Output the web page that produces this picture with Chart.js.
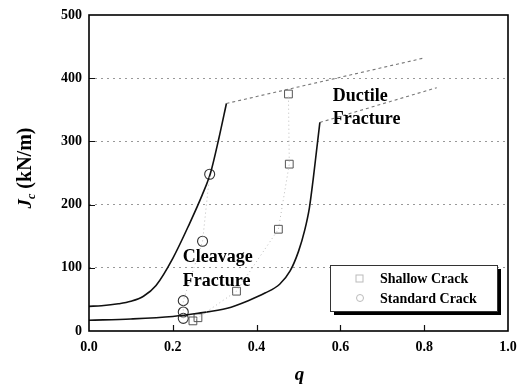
<!DOCTYPE html>
<html lang="en">
<head>
  <meta charset="UTF-8" />
  <title>Jc vs q</title>
  <style>
    body { margin: 0; background: #fff; }
    #wrap { width: 521px; height: 390px; }
  </style>
</head>
<body>
  <div id="wrap"><canvas id="jcChart" width="521" height="390"></canvas></div>

  <script src="https://cdn.jsdelivr.net/npm/chart.js@4.4.1/dist/chart.umd.min.js"></script>
  <script>
    // upper bound of cleavage scatter band (solid) and its ductile continuation (dotted)
    const upperQ = [0, 0.03, 0.07, 0.1, 0.13, 0.16, 0.2, 0.24, 0.27, 0.29, 0.31, 0.328];
    const upperJ = [39, 40, 43, 47, 55, 72, 115, 170, 215, 250, 305, 360];
    const upperDuctQ = [0.328, 0.80];
    const upperDuctJ = [360, 432];

    // lower bound
    const lowerQ = [0, 0.1, 0.2, 0.26, 0.33, 0.38, 0.42, 0.455, 0.48, 0.5, 0.515, 0.526, 0.535, 0.543, 0.551];
    const lowerJ = [17, 19, 23, 28, 36, 48, 60, 74, 95, 126, 160, 195, 240, 285, 330];
    const lowerDuctQ = [0.551, 0.83];
    const lowerDuctJ = [330, 385];

    // test results
    const shallowQ = [0.248, 0.26, 0.352, 0.452, 0.478, 0.476];
    const shallowJ = [16, 21, 63, 161, 264, 375];
    const standardQ = [0.225, 0.225, 0.225, 0.271, 0.288];
    const standardJ = [20, 30, 48, 142, 248];

    const xTicks = [0, 0.2, 0.4, 0.6, 0.8, 1.0];
    const yTicks = [0, 100, 200, 300, 400, 500];

    const notes = [
      { text: 'Ductile', q: 0.582, j: 364 },
      { text: 'Fracture', q: 0.582, j: 328 },
      { text: 'Cleavage', q: 0.224, j: 109 },
      { text: 'Fracture', q: 0.224, j: 71 }
    ];

    const FONT = '"Liberation Serif", "DejaVu Serif", serif';

    function pts(xs, ys) {
      return xs.map((x, i) => ({ x: x, y: ys[i] }));
    }

    const chartDecor = {
      id: 'chartDecor',
      afterDraw(chart) {
        const ctx = chart.ctx;
        const a = chart.chartArea;
        const xs = chart.scales.x, ys = chart.scales.y;
        ctx.save();

        // inner tick marks
        ctx.strokeStyle = '#111';
        ctx.lineWidth = 1.2;
        ctx.beginPath();
        xTicks.slice(1, -1).forEach(v => {
          const px = Math.round(xs.getPixelForValue(v)) + 0.5;
          ctx.moveTo(px, a.bottom); ctx.lineTo(px, a.bottom - 6);
        });
        yTicks.slice(1, -1).forEach(v => {
          const py = Math.round(ys.getPixelForValue(v)) + 0.5;
          ctx.moveTo(a.left, py); ctx.lineTo(a.left + 6, py);
        });
        ctx.stroke();

        // frame
        ctx.lineWidth = 1.6;
        ctx.strokeStyle = '#000';
        ctx.strokeRect(a.left, a.top, a.right - a.left, a.bottom - a.top);

        // region labels
        ctx.fillStyle = '#000';
        ctx.font = 'bold 18px ' + FONT;
        ctx.textAlign = 'left';
        ctx.textBaseline = 'alphabetic';
        notes.forEach(n => {
          ctx.fillText(n.text, xs.getPixelForValue(n.q), ys.getPixelForValue(n.j));
        });

        // legend box with drop shadow
        const lx = 330, ly = 265, lw = 167, lh = 46;
        ctx.fillStyle = '#000';
        ctx.fillRect(lx + 4, ly + 4, lw, lh);
        ctx.fillStyle = '#fff';
        ctx.fillRect(lx, ly, lw, lh);
        ctx.lineWidth = 1;
        ctx.strokeStyle = '#333';
        ctx.strokeRect(lx + 0.5, ly + 0.5, lw, lh);
        ctx.strokeStyle = '#bbb';
        ctx.strokeRect(lx + 26, ly + 10, 7, 7);
        ctx.beginPath();
        ctx.arc(lx + 30, ly + 33, 3.5, 0, Math.PI * 2);
        ctx.stroke();
        ctx.fillStyle = '#000';
        ctx.font = 'bold 14px ' + FONT;
        ctx.textBaseline = 'middle';
        ctx.fillText('Shallow Crack', lx + 50, ly + 14);
        ctx.fillText('Standard Crack', lx + 50, ly + 34);

        // x axis title
        ctx.font = 'italic bold 19px ' + FONT;
        ctx.textAlign = 'center';
        ctx.textBaseline = 'alphabetic';
        ctx.fillText('q', (a.left + a.right) / 2 + 1, 380);

        // y axis title: J_c (kN/m)
        ctx.translate(31, (a.top + a.bottom) / 2 - 5);
        ctx.rotate(-Math.PI / 2);
        ctx.textAlign = 'left';
        const fJ = 'italic bold 19px ' + FONT;
        const fc = 'italic bold 12px ' + FONT;
        const fU = 'bold 20px ' + FONT;
        ctx.font = fJ; const wJ = ctx.measureText('J').width;
        ctx.font = fc; const wc = ctx.measureText('c').width;
        ctx.font = fU; const wU = ctx.measureText(' (kN/m)').width;
        let u = -(wJ + wc + wU) / 2;
        ctx.font = fJ; ctx.fillText('J', u, 0); u += wJ;
        ctx.font = fc; ctx.fillText('c', u, 4); u += wc;
        ctx.font = fU; ctx.fillText(' (kN/m)', u, 0);

        ctx.restore();
      }
    };

    const curveStyle = { borderColor: '#111', borderWidth: 1.6, pointRadius: 0, showLine: true, fill: false, cubicInterpolationMode: 'monotone' };
    const ductStyle = { borderColor: '#777', borderWidth: 1.1, borderDash: [3, 3], pointRadius: 0, showLine: true, fill: false };
    const trendStyle = { borderColor: '#bbb', borderWidth: 1, borderDash: [1, 3], pointRadius: 0, showLine: true, fill: false };

    const ctx = document.getElementById('jcChart').getContext('2d');
    new Chart(ctx, {
      type: 'scatter',
      data: {
        datasets: [
          Object.assign({ label: 'shallow trend', data: pts(shallowQ, shallowJ) }, trendStyle),
          Object.assign({ label: 'standard trend', data: pts(standardQ, standardJ) }, trendStyle),
          Object.assign({ label: 'upper', data: pts(upperQ, upperJ) }, curveStyle),
          Object.assign({ label: 'upper ductile', data: pts(upperDuctQ, upperDuctJ) }, ductStyle),
          Object.assign({ label: 'lower', data: pts(lowerQ, lowerJ) }, curveStyle),
          Object.assign({ label: 'lower ductile', data: pts(lowerDuctQ, lowerDuctJ) }, ductStyle),
          {
            label: 'Shallow Crack',
            data: pts(shallowQ, shallowJ),
            pointStyle: 'rect',
            pointRadius: 5.5,
            borderColor: '#555',
            borderWidth: 1,
            backgroundColor: 'rgba(0,0,0,0)'
          },
          {
            label: 'Standard Crack',
            data: pts(standardQ, standardJ),
            pointStyle: 'circle',
            pointRadius: 5,
            borderColor: '#333',
            borderWidth: 1.1,
            backgroundColor: 'rgba(0,0,0,0)'
          }
        ]
      },
      options: {
        responsive: false,
        animation: false,
        layout: { padding: { left: 0, right: 13, top: 15, bottom: 0 } },
        plugins: { legend: { display: false }, tooltip: { enabled: false } },
        scales: {
          x: {
            type: 'linear', min: 0, max: 1,
            afterFit(s) { s.height = 59; s.paddingLeft = 0; s.paddingRight = 0; },
            afterBuildTicks(s) { s.ticks = xTicks.map(v => ({ value: v })); },
            ticks: {
              padding: 8, color: '#000',
              font: { family: FONT, size: 14, weight: 'bold' },
              callback: v => v.toFixed(1)
            },
            grid: { display: false, drawTicks: false },
            border: { display: false }
          },
          y: {
            type: 'linear', min: 0, max: 500,
            afterFit(s) { s.width = 89; s.paddingTop = 0; s.paddingBottom = 0; },
            afterBuildTicks(s) { s.ticks = yTicks.map(v => ({ value: v })); },
            ticks: {
              padding: 7, color: '#000',
              font: { family: FONT, size: 14, weight: 'bold' }
            },
            grid: {
              drawTicks: false,
              color: c => (c.tick && (c.tick.value === 0 || c.tick.value === 500)) ? 'rgba(0,0,0,0)' : '#999'
            },
            border: { display: false, dash: [2, 4] }
          }
        }
      },
      plugins: [chartDecor]
    });
  </script>
</body>
</html>
